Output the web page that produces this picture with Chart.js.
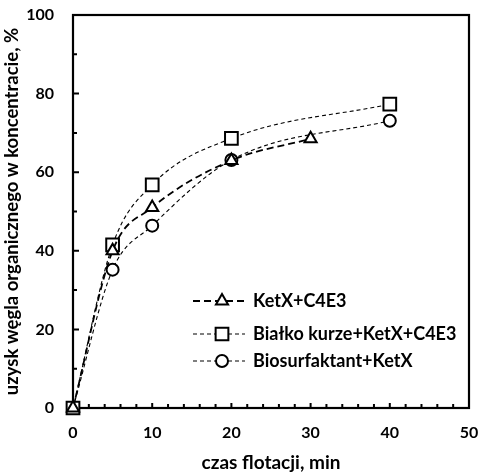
<!DOCTYPE html>
<html><head><meta charset="utf-8">
<script src="https://cdn.jsdelivr.net/npm/chart.js@4/dist/chart.umd.min.js"></script>
<style>html,body{margin:0;padding:0;background:#fff}#wrap{width:479px;height:472px;position:relative}</style>
</head><body><div id="wrap"><canvas id="c" width="479" height="472"></canvas></div>
<script>
const seriesLabels = ['KetX+C4E3', 'Białko kurze+KetX+C4E3', 'Biosurfaktant+KetX'];
const timeA = [0, 5, 10, 20, 30];
const recoveryA = [0, 40, 51, 63, 68.5];
const timeB = [0, 5, 10, 20, 40];
const recoveryB = [0, 41.5, 56.8, 68.6, 77.3];
const timeC = [0, 5, 10, 20, 40];
const recoveryC = [0, 35.2, 46.4, 63.1, 73.1];
const xTicks = [0, 10, 20, 30, 40, 50];
const yTicks = [0, 20, 40, 60, 80, 100];
const xMinorStep = 2;
const yMinorStep = 10;
const xTitle = 'czas flotacji, min';
const yTitle = 'uzysk węgla organicznego w koncentracie, %';

const FONT = 'Lato';
const pts = (xs, ys) => xs.map((x, i) => ({x: x, y: ys[i]}));

const styles = [
  {pointStyle: 'triangle', pointRadius: 7, borderDash: [7, 4], borderWidth: 1.8},
  {pointStyle: 'rect', pointRadius: 9, borderDash: [4, 3], borderWidth: 1.1},
  {pointStyle: 'circle', pointRadius: 6, borderDash: [4, 3], borderWidth: 1.1}
];
const dataSets = [pts(timeA, recoveryA), pts(timeB, recoveryB), pts(timeC, recoveryC)];

const datasets = dataSets.map((d, i) => ({
  label: seriesLabels[i],
  data: d,
  borderColor: '#000',
  backgroundColor: '#fff',
  borderWidth: styles[i].borderWidth,
  borderDash: styles[i].borderDash,
  cubicInterpolationMode: 'monotone',
  pointStyle: styles[i].pointStyle,
  pointRadius: styles[i].pointRadius,
  pointBorderWidth: 2,
  pointBackgroundColor: '#fff',
  pointBorderColor: '#000',
  clip: false
}));

const framePlugin = {
  id: 'frame',
  beforeDatasetsDraw(chart) {
    const {ctx, chartArea: a, scales: {x, y}} = chart;
    ctx.save();
    ctx.strokeStyle = '#000';
    ctx.lineWidth = 2.2;
    ctx.strokeRect(a.left, a.top, a.right - a.left, a.bottom - a.top);
    ctx.lineWidth = 2;
    ctx.beginPath();
    for (let v = x.min; v <= x.max; v += xMinorStep) {
      const px = x.getPixelForValue(v);
      const len = (v % 10 === 0) ? 5 : 4;
      ctx.moveTo(px, a.bottom);
      ctx.lineTo(px, a.bottom - len);
    }
    for (let v = y.min; v <= y.max; v += yMinorStep) {
      const py = y.getPixelForValue(v);
      const len = (v % 20 === 0) ? 6 : 4;
      ctx.moveTo(a.left, py);
      ctx.lineTo(a.left + len, py);
    }
    ctx.stroke();
    ctx.restore();
  }
};

const legendPlugin = {
  id: 'customLegend',
  afterDraw(chart) {
    const {ctx} = chart;
    const rows = [301, 334, 361];
    const x0 = 193, x1 = 245, mx = 222, tx = 253;
    ctx.save();
    chart.data.datasets.forEach((ds, i) => {
      const yy = rows[i];
      ctx.strokeStyle = '#000';
      ctx.lineWidth = ds.borderWidth;
      ctx.setLineDash(ds.borderDash);
      ctx.beginPath();
      ctx.moveTo(x0, yy);
      ctx.lineTo(x1, yy);
      ctx.stroke();
      ctx.setLineDash([]);
      ctx.fillStyle = '#fff';
      ctx.strokeStyle = '#000';
      ctx.lineWidth = 2;
      Chart.helpers.drawPoint(ctx, {pointStyle: ds.pointStyle, radius: ds.pointRadius, borderWidth: 2, rotation: 0}, mx, yy);
      ctx.fillStyle = '#000';
      ctx.font = 'bold 18px ' + FONT;
      ctx.textBaseline = 'middle';
      ctx.textAlign = 'left';
      ctx.fillText(ds.label, tx, yy);
    });
    ctx.restore();
  }
};

new Chart(document.getElementById('c'), {
  type: 'line',
  data: {datasets: datasets},
  plugins: [framePlugin, legendPlugin],
  options: {
    responsive: false,
    animation: false,
    devicePixelRatio: 1,
    layout: {autoPadding: false, padding: {top: 15, right: 10, left: 0, bottom: 0}},
    plugins: {legend: {display: false}, tooltip: {enabled: false}},
    scales: {
      x: {
        type: 'linear', min: 0, max: 50,
        afterBuildTicks: s => { s.ticks = xTicks.map(v => ({value: v})); },
        afterFit: s => { s.height = 64; },
        grid: {drawOnChartArea: false, drawTicks: true, tickLength: 15, tickColor: 'rgba(0,0,0,0)'},
        border: {display: false},
        ticks: {color: '#000', padding: 0, font: {family: FONT, size: 16, weight: 'bold'}, maxRotation: 0},
        title: {display: true, text: xTitle, color: '#000', padding: {top: 0, bottom: 0}, font: {family: FONT, size: 19, weight: 'bold', lineHeight: 1}}
      },
      y: {
        type: 'linear', min: 0, max: 100,
        afterBuildTicks: s => { s.ticks = yTicks.map(v => ({value: v})); },
        afterFit: s => { s.width = 73; },
        grid: {drawOnChartArea: false, drawTicks: true, tickLength: 19, tickColor: 'rgba(0,0,0,0)'},
        border: {display: false},
        ticks: {color: '#000', padding: 0, font: {family: FONT, size: 16, weight: 'bold'}},
        title: {display: true, text: yTitle, color: '#000', padding: {top: 3, bottom: 0}, font: {family: FONT, size: 18.5, weight: 'bold', lineHeight: 1}}
      }
    }
  }
});
</script></body></html>
